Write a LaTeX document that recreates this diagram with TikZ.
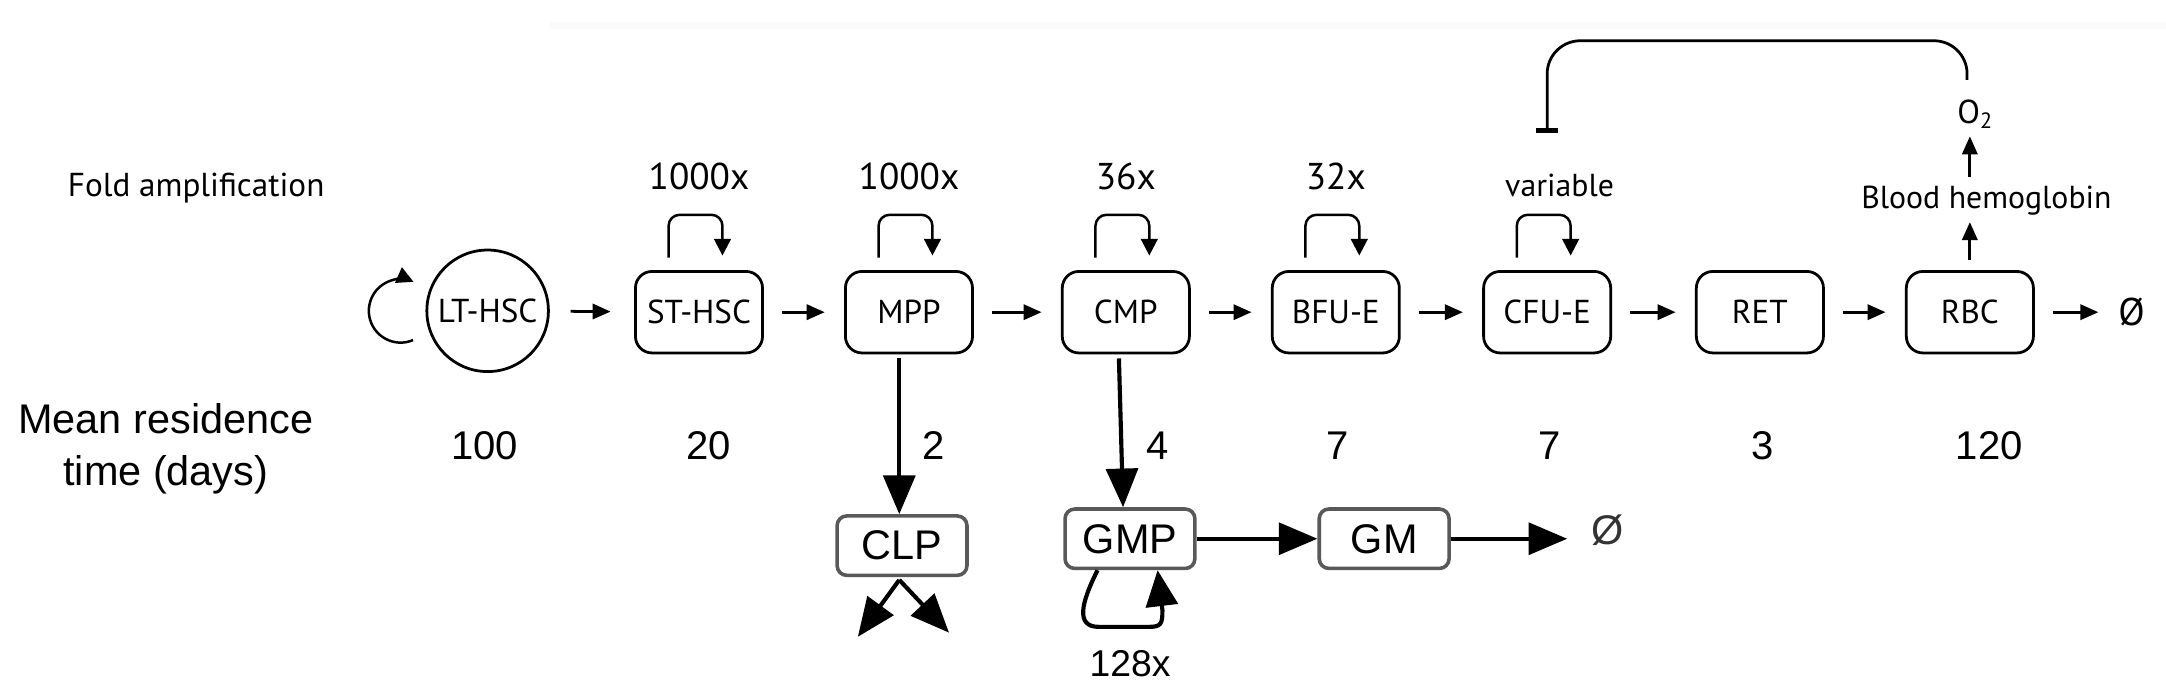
\documentclass[tikz,border=0pt]{standalone}
\usepackage{fontspec}
\newfontfamily\topfont{PT Sans}
\newfontfamily\lowfont{Liberation Sans}
\usetikzlibrary{arrows.meta,positioning}

\begin{document}
\begin{tikzpicture}[x=0.5pt,y=-0.5pt,
  cell/.style={draw,line width=1pt,rounded corners=6pt,minimum width=46pt,minimum height=29.5pt,inner sep=0pt,font=\topfont\fontsize{12}{14}\selectfont},
  stem/.style={draw,circle,line width=1pt,minimum size=44pt,inner sep=0pt,font=\topfont\fontsize{12}{14}\selectfont},
  side/.style={draw=black!65,line width=1.3pt,rounded corners=3.5pt,minimum width=47pt,minimum height=21.5pt,inner sep=0pt,font=\lowfont\fontsize{15}{18}\selectfont},
  lab/.style={anchor=base,inner sep=0pt,font=\topfont\fontsize{#1}{#1}\selectfont},
  num/.style={anchor=base,inner sep=0pt,font=\lowfont\fontsize{#1}{#1}\selectfont},
  flow/.style={-{Triangle[length=6.5pt,width=5.5pt]},line width=1pt,shorten <=6.5pt,shorten >=7pt},
  renew/.style={-{Triangle[length=6pt,width=6pt]},line width=0.9pt,rounded corners=4pt},
  fate/.style={-{Triangle[length=14pt,width=11.5pt]},line width=1.5pt}]
  \useasboundingbox (0,0) rectangle (1568,496);
  \fill[black!2] (398,16) rectangle (1568,21);

  % row labels
  \node[lab=12] (foldlab) at (142,142.5) {Fold amplification};
  \node[inner sep=0pt,align=center,font=\lowfont\fontsize{15}{19}\selectfont] (mrt) at (120,325) {Mean residence\\time (days)};
  \foreach \x/\t [count=\i] in {351/100,513/20,676/2,838/4,968/7,1122/7,1276/3,1440/120}
    \node[num=14.5] (days\i) at (\x,333) {\t};

  % erythroid lineage
  \node[stem] (lt) at (353,225) {LT-HSC};
  \node[cell] (st) at (506,226) {ST-HSC};
  \node[cell] (mpp) at (658,226) {MPP};
  \node[cell] (cmp) at (815,226) {CMP};
  \node[cell] (bfu) at (967,226) {BFU-E};
  \node[cell] (cfu) at (1120,226) {CFU-E};
  \node[cell] (ret) at (1274,226) {RET};
  \node[cell] (rbc) at (1426,226) {RBC};
  \node[lab=14,anchor=center] (out) at (1543,226) {Ø};

  \foreach \c/\t in {st/1000x,mpp/1000x,cmp/36x,bfu/32x}
    \node[lab=13.5] (f\c) at (\c.north |- 0,137) {\t};
  \node[lab=11.5] (fcfu) at (1129,142) {variable};
  \node[lab=11.5] (blood) at (1438,150.9) {Blood hemoglobin};
  \node[lab=12] (oxy) at (1430,89.3) {O\textsubscript{2}};

  \draw[flow] (lt) edge[shorten <=7.5pt,shorten >=8.5pt] (st) (st) edge (mpp) (mpp) edge (cmp)
    (cmp) edge (bfu) (bfu) edge (cfu) (cfu) edge (ret) (ret) edge (rbc) (rbc) edge (out);
  \draw[renew] ([shift={(-54,21.2)}]lt.center) arc[start angle=67,end angle=294,radius=23];
  \foreach \c in {st,mpp,cmp,bfu,cfu}
    \draw[renew] ([shift={(-22,-9)}]\c.north) -- ++(0,-31) -| ([shift={(17,-10.5)}]\c.north);

  \draw[flow,shorten <=3.5pt,shorten >=2.3pt] (rbc.north) -- (rbc.north |- blood.south);
  \draw[flow,shorten <=3pt,shorten >=2.7pt] (blood.north -| rbc.north) -- (oxy.south -| rbc.north);
  \draw[line width=1pt,rounded corners=12pt,-{Bar[width=8pt,line width=1.5pt]}]
    ([shift={(-6,-14)}]oxy.north) |- (cfu.north |- 0,29.5) -- (cfu.north |- 0,96);

  % side branches
  \node[side] (clp) at (653,395) {CLP};
  \node[side] (gmp) at (818,390) {GMP};
  \node[side] (gm) at (1002,390) {GM};
  \node[num=15,anchor=center,text=black!80] (gmout) at (1164,384) {Ø};
  \node[num=13.5] (gmpfold) at (818,490) {128x};
  \coordinate (lymA) at (621,461);
  \coordinate (lymB) at (687,458);

  \draw[fate] ([xshift=-3.5pt,yshift=-1.5pt]mpp.south) -- ([xshift=-1pt]clp.north);
  \draw[fate] ([xshift=-2.5pt,yshift=-1.5pt]cmp.south) -- ([xshift=-2.5pt]gmp.north);
  \draw[fate] ([xshift=-1pt,yshift=-1pt]clp.south) -- (lymA);
  \draw[fate] ([xshift=-1pt,yshift=-1pt]clp.south) -- (lymB);
  \draw[fate] (gmp) -- (gm);
  \draw[fate,shorten >=8.7pt] (gm.east) -- (gm.east -| gmout.west);
  \draw[fate,-{Triangle[length=13pt,width=11.5pt]}] ([xshift=-11.75pt]gmp.south)
    .. controls +(-12,24) and +(-17,0) .. ++(1,41) -- ++(36,0)
    .. controls +(9,0) and +(0,10) .. ++(10,-12) -- ([xshift=10pt]gmp.south);
\end{tikzpicture}
\end{document}
